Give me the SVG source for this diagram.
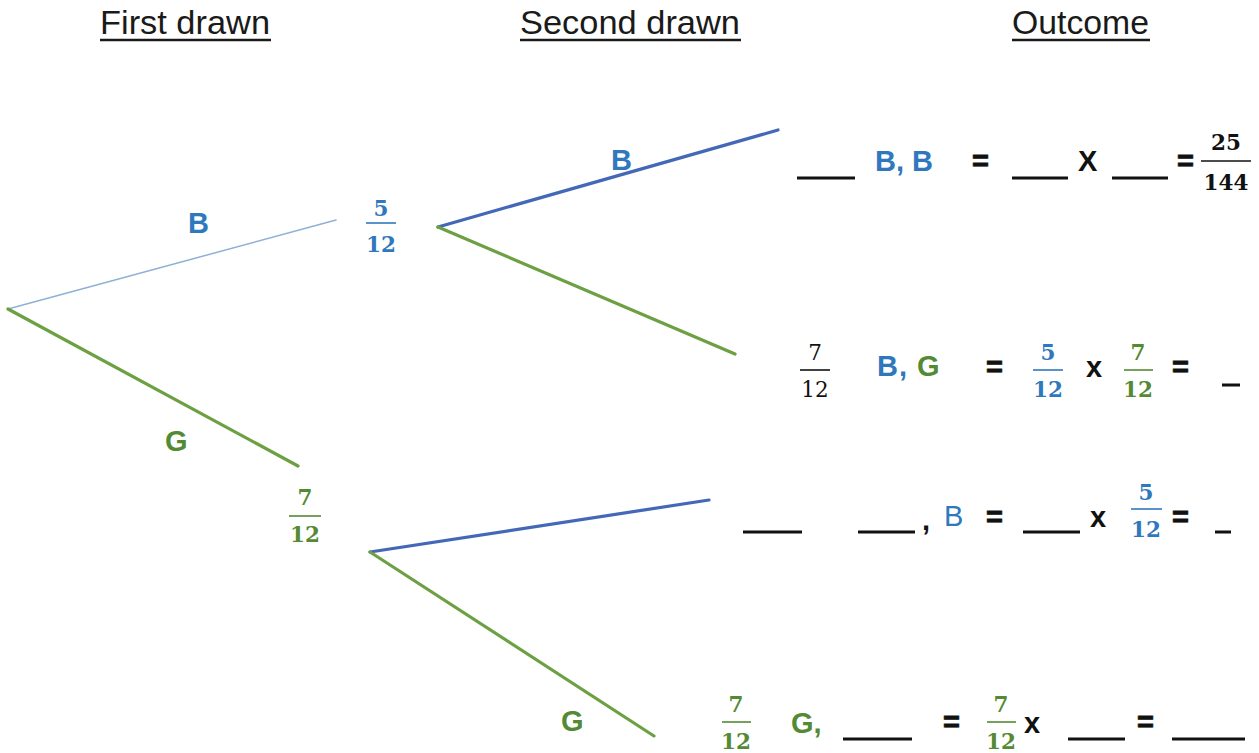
<svg xmlns="http://www.w3.org/2000/svg" width="1259" height="753" viewBox="0 0 1259 753">
<style>
.hdr{font-family:"Liberation Sans",Arial,sans-serif;font-size:34px;fill:#1a1a1a}
.ul{stroke:#1a1a1a;stroke-width:2.5}
.lbl{font-family:"Liberation Sans",Arial,sans-serif;font-size:29px;font-weight:bold}
.reg{font-family:"Liberation Sans",Arial,sans-serif;font-size:29px;font-weight:normal}
.fr{font-family:"DejaVu Serif","Liberation Serif",serif;font-size:21.5px;font-weight:bold;text-anchor:middle}
.frn{font-family:"DejaVu Serif","Liberation Serif",serif;font-size:21.5px;font-weight:normal;text-anchor:middle}
.blue{fill:#2f78bd}
.green{fill:#548a34}
.black{fill:#111}
.bar{stroke-width:1.6}
.bb{stroke:#2f78bd}
.bg{stroke:#548a34}
.bk{stroke:#111}
.blank{stroke:#111;stroke-width:3}
.eq{font-family:"Liberation Sans",Arial,sans-serif;font-size:29px;font-weight:bold;fill:#111;stroke:#111;stroke-width:0.8}
.br{fill:none;stroke-width:3.2;stroke-linecap:round}
.bluel{stroke:#4468b8}
.greenl{stroke:#6ca042}
</style>
<rect width="1259" height="753" fill="#ffffff"/>

<g id="headers">
<text class="hdr" x="100" y="34" textLength="170" lengthAdjust="spacingAndGlyphs">First drawn</text>
<line class="ul" x1="100" y1="40" x2="271" y2="40"/>
<text class="hdr" x="520" y="34" textLength="220" lengthAdjust="spacingAndGlyphs">Second drawn</text>
<line class="ul" x1="520" y1="40" x2="741" y2="40"/>
<text class="hdr" x="1012" y="34" textLength="137" lengthAdjust="spacingAndGlyphs">Outcome</text>
<line class="ul" x1="1012" y1="40" x2="1150" y2="40"/>
</g>

<g id="connectors">
<line class="br" x1="8" y1="309" x2="336" y2="220" style="stroke:#8fb0d6;stroke-width:1.5"/>
<line class="br greenl" x1="8" y1="309" x2="298" y2="466"/>
<line class="br bluel" x1="438" y1="227" x2="778" y2="130"/>
<line class="br greenl" x1="438" y1="227" x2="735" y2="354"/>
<line class="br bluel" x1="370" y1="552" x2="709" y2="500"/>
<line class="br greenl" x1="370" y1="552" x2="654" y2="736"/>
</g>

<g id="node-first-B">
<text class="lbl blue" x="188" y="233">B</text>
<text class="fr blue" x="381" y="216">5</text>
<line class="bar bb" x1="366" y1="223" x2="396" y2="223"/>
<text class="fr blue" x="381" y="252">12</text>
</g>

<g id="node-first-G">
<text class="lbl green" x="165" y="451">G</text>
<text class="fr green" x="305" y="505">7</text>
<line class="bar bg" x1="289" y1="516" x2="321" y2="516"/>
<text class="fr green" x="305" y="542">12</text>
</g>

<g id="node-second-BB">
<text class="lbl blue" x="611" y="170">B</text>
</g>

<g id="node-second-GG">
<text class="lbl green" x="561" y="731">G</text>
</g>

<g id="outcome-BB">
<line class="blank" x1="797" y1="178" x2="855" y2="178"/>
<text class="lbl blue" x="875" y="171">B, B</text>
<text class="eq" x="972" y="171">=</text>
<line class="blank" x1="1012" y1="178" x2="1068" y2="178"/>
<text class="lbl black" x="1078" y="171">X</text>
<line class="blank" x1="1112" y1="178" x2="1168" y2="178"/>
<text class="eq" x="1177" y="171">=</text>
<text class="fr black" x="1226" y="150">25</text>
<line class="bar bk" x1="1201" y1="161" x2="1251" y2="161"/>
<text class="fr black" x="1226" y="190">144</text>
</g>

<g id="outcome-BG">
<text class="frn black" x="815" y="360">7</text>
<line class="bar bk" x1="800" y1="370" x2="830" y2="370"/>
<text class="frn black" x="815" y="397">12</text>
<text class="lbl blue" x="877" y="376">B</text>
<text class="lbl blue" x="899" y="376">,</text>
<text class="lbl green" x="917" y="376">G</text>
<text class="eq" x="986" y="377">=</text>
<text class="fr blue" x="1048" y="360">5</text>
<line class="bar bb" x1="1033" y1="370" x2="1063" y2="370"/>
<text class="fr blue" x="1048" y="397">12</text>
<text class="lbl black" x="1086" y="377">x</text>
<text class="fr green" x="1138" y="360">7</text>
<line class="bar bg" x1="1124" y1="370" x2="1153" y2="370"/>
<text class="fr green" x="1138" y="397">12</text>
<text class="eq" x="1172" y="377">=</text>
<line class="blank" x1="1222" y1="385" x2="1240" y2="385"/>
</g>

<g id="outcome-GB">
<line class="blank" x1="743" y1="532" x2="802" y2="532"/>
<line class="blank" x1="858" y1="532" x2="915" y2="532"/>
<text class="lbl black" x="922" y="530">,</text>
<text class="reg blue" x="944" y="526">B</text>
<text class="eq" x="986" y="527">=</text>
<line class="blank" x1="1023" y1="532" x2="1080" y2="532"/>
<text class="lbl black" x="1090" y="527">x</text>
<text class="fr blue" x="1146" y="500">5</text>
<line class="bar bb" x1="1131" y1="509" x2="1162" y2="509"/>
<text class="fr blue" x="1146" y="537">12</text>
<text class="eq" x="1172" y="527">=</text>
<line class="blank" x1="1215" y1="532" x2="1231" y2="532"/>
</g>

<g id="outcome-GG">
<text class="fr green" x="736" y="712">7</text>
<line class="bar bg" x1="722" y1="722" x2="751" y2="722"/>
<text class="fr green" x="736" y="749">12</text>
<text class="lbl green" x="791" y="733">G,</text>
<line class="blank" x1="843" y1="739" x2="912" y2="739"/>
<text class="eq" x="943" y="732">=</text>
<text class="fr green" x="1001" y="712">7</text>
<line class="bar bg" x1="987" y1="722" x2="1016" y2="722"/>
<text class="fr green" x="1001" y="749">12</text>
<text class="lbl black" x="1024" y="733">x</text>
<line class="blank" x1="1068" y1="739" x2="1125" y2="739"/>
<text class="eq" x="1137" y="732">=</text>
<line class="blank" x1="1172" y1="739" x2="1245" y2="739"/>
</g>
</svg>
